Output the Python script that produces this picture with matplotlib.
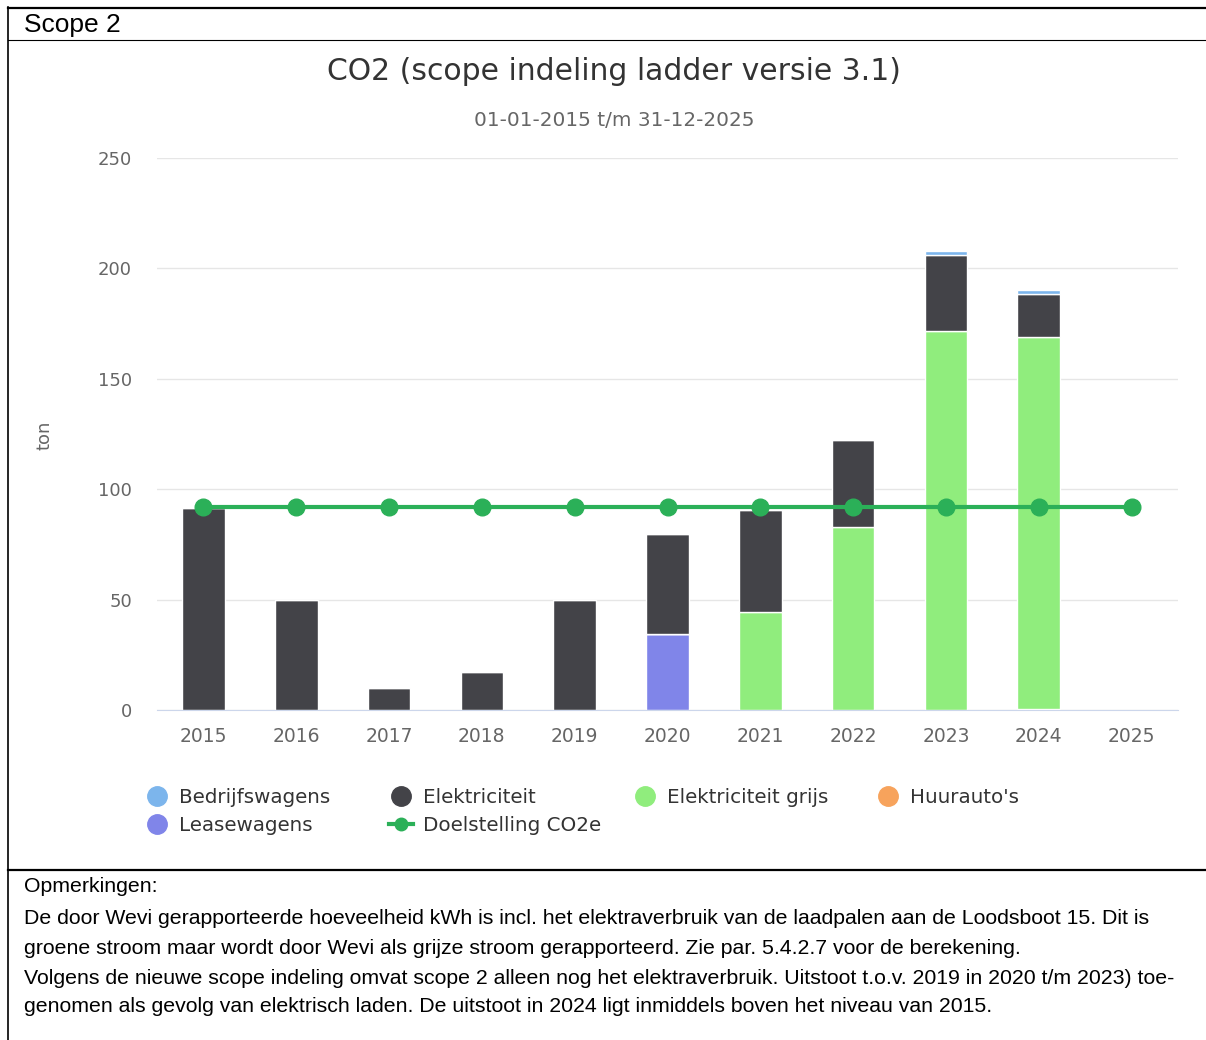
import matplotlib
matplotlib.use("Agg")
import matplotlib.pyplot as plt
import numpy as np
from matplotlib.lines import Line2D

W, H = 1206, 1040
years = ["2015", "2016", "2017", "2018", "2019", "2020", "2021", "2022", "2023", "2024", "2025"]
bedrijfswagens = [0, 0, 0, 0, 0, 0, 0, 0, 1.8, 1.6, 0]
elektriciteit = [91.5, 50, 10, 17, 50, 45.3, 46.2, 39.4, 34.4, 19.4, 0]
elektriciteit_grijs = [0, 0, 0, 0, 0, 0, 44.4, 82.9, 171.6, 168.4, 0]
huurautos = [0, 0, 0, 0, 0, 0, 0, 0, 0, 0.6, 0]
leasewagens = [0, 0, 0, 0, 0, 34.4, 0, 0, 0, 0, 0]
doelstelling = [92, 92, 92, 92, 92, 92, 92, 92, 92, 92, 92]
yticks = [0, 50, 100, 150, 200, 250]

C_BED = "#7cb5ec"
C_ELE = "#434348"
C_GRY = "#90ed7d"
C_HUU = "#f7a35c"
C_LEA = "#8085e9"
C_DOE = "#2bb058"

fig = plt.figure(figsize=(W / 100, H / 100), dpi=100)
fig.patch.set_facecolor("white")

def fx(x):
    return x / W

def fy(y):
    return 1 - y / H

ax = fig.add_axes([fx(157), fy(710), fx(1178) - fx(157), fy(158) - fy(710)])
x = np.arange(len(years))
bw = 0.46
# stacking: first series on top -> draw from bottom up
stack_order = [(leasewagens, C_LEA), (huurautos, C_HUU), (elektriciteit_grijs, C_GRY),
               (elektriciteit, C_ELE), (bedrijfswagens, C_BED)]
bottom = np.zeros(len(years))
for vals, col in stack_order:
    v = np.array(vals, dtype=float)
    ax.bar(x, v, bw, bottom=bottom, color=col, edgecolor="white", linewidth=1.0, zorder=3)
    bottom += v

ax.plot(x, doelstelling, color=C_DOE, lw=3, marker="o", ms=12, zorder=4)

ax.set_xlim(-0.5, len(years) - 0.5)
ax.set_ylim(0, 250)
ax.set_yticks(yticks)
ax.set_yticklabels([str(t) for t in yticks])
ax.set_xticks(x)
ax.set_xticklabels(years)
ax.grid(axis="y", color="#e6e6e6", lw=1, zorder=0)
for s in ["top", "right", "left"]:
    ax.spines[s].set_visible(False)
ax.spines["bottom"].set_color("#ccd6eb")
ax.spines["bottom"].set_zorder(5)
ax.tick_params(axis="y", length=0, pad=18, labelsize=13, labelcolor="#666666")
ax.tick_params(axis="x", length=0, pad=12.5, labelsize=13.5, labelcolor="#666666")
fig.text(fx(45), fy(435), "ton", rotation=90, ha="center", va="center", color="#666666", fontsize=13)

fig.text(fx(614), fy(71), "CO2 (scope indeling ladder versie 3.1)", ha="center", va="center",
         fontsize=21.5, color="#333333")
fig.text(fx(614), fy(120), "01-01-2015 t/m 31-12-2025", ha="center", va="center",
         fontsize=14.4, color="#666666")

# legend: four equally spaced columns
cols = [
    [("Bedrijfswagens", C_BED, "dot"), ("Leasewagens", C_LEA, "dot")],
    [("Elektriciteit", C_ELE, "dot"), ("Doelstelling CO2e", C_DOE, "line")],
    [("Elektriciteit grijs", C_GRY, "dot")],
    [("Huurauto's", C_HUU, "dot")],
]
col_x = [145, 389, 633, 876]
for cx, items in zip(col_x, cols):
    handles, labels = [], []
    for lab, col, kind in items:
        if kind == "dot":
            h = Line2D([], [], color=col, marker="o", ms=14, lw=0)
        else:
            h = Line2D([], [], color=col, marker="o", ms=9, lw=3)
        handles.append(h)
        labels.append(lab)
    fig.legend(handles, labels, loc="upper left", bbox_to_anchor=(fx(cx), fy(788)),
               frameon=False, fontsize=14.3, handlelength=1.2, handletextpad=0.5,
               labelspacing=0.45, borderaxespad=0, borderpad=0, labelcolor="#333333")

# frame lines
def hline(y, x0, x1, lw):
    fig.add_artist(Line2D([fx(x0), fx(x1)], [fy(y), fy(y)], color="black", lw=lw, transform=fig.transFigure))

def vline(xp, y0, y1, lw):
    fig.add_artist(Line2D([fx(xp), fx(xp)], [fy(y0), fy(y1)], color="black", lw=lw, transform=fig.transFigure))

hline(7.5, 8, 1206, 1.6)
hline(39.5, 8, 1206, 0.8)
hline(870, 8, 1206, 1.6)
vline(8, 7, 1040, 1.2)

fig.text(fx(24), fy(25), "Scope 2", ha="left", va="center", fontsize=19,
         family="Liberation Sans", color="black")

notes = [
    "Opmerkingen:",
    "De door Wevi gerapporteerde hoeveelheid kWh is incl. het elektraverbruik van de laadpalen aan de Loodsboot 15. Dit is",
    "groene stroom maar wordt door Wevi als grijze stroom gerapporteerd. Zie par. 5.4.2.7 voor de berekening.",
    "Volgens de nieuwe scope indeling omvat scope 2 alleen nog het elektraverbruik. Uitstoot t.o.v. 2019 in 2020 t/m 2023) toe-",
    "genomen als gevolg van elektrisch laden. De uitstoot in 2024 ligt inmiddels boven het niveau van 2015.",
]
note_y = [887, 918, 948, 978, 1006]
for t, yy in zip(notes, note_y):
    fig.text(fx(24), fy(yy), t, ha="left", va="center", fontsize=15.35,
             family="Liberation Sans", color="black")

fig.savefig("out.png", dpi=100, facecolor="white")
